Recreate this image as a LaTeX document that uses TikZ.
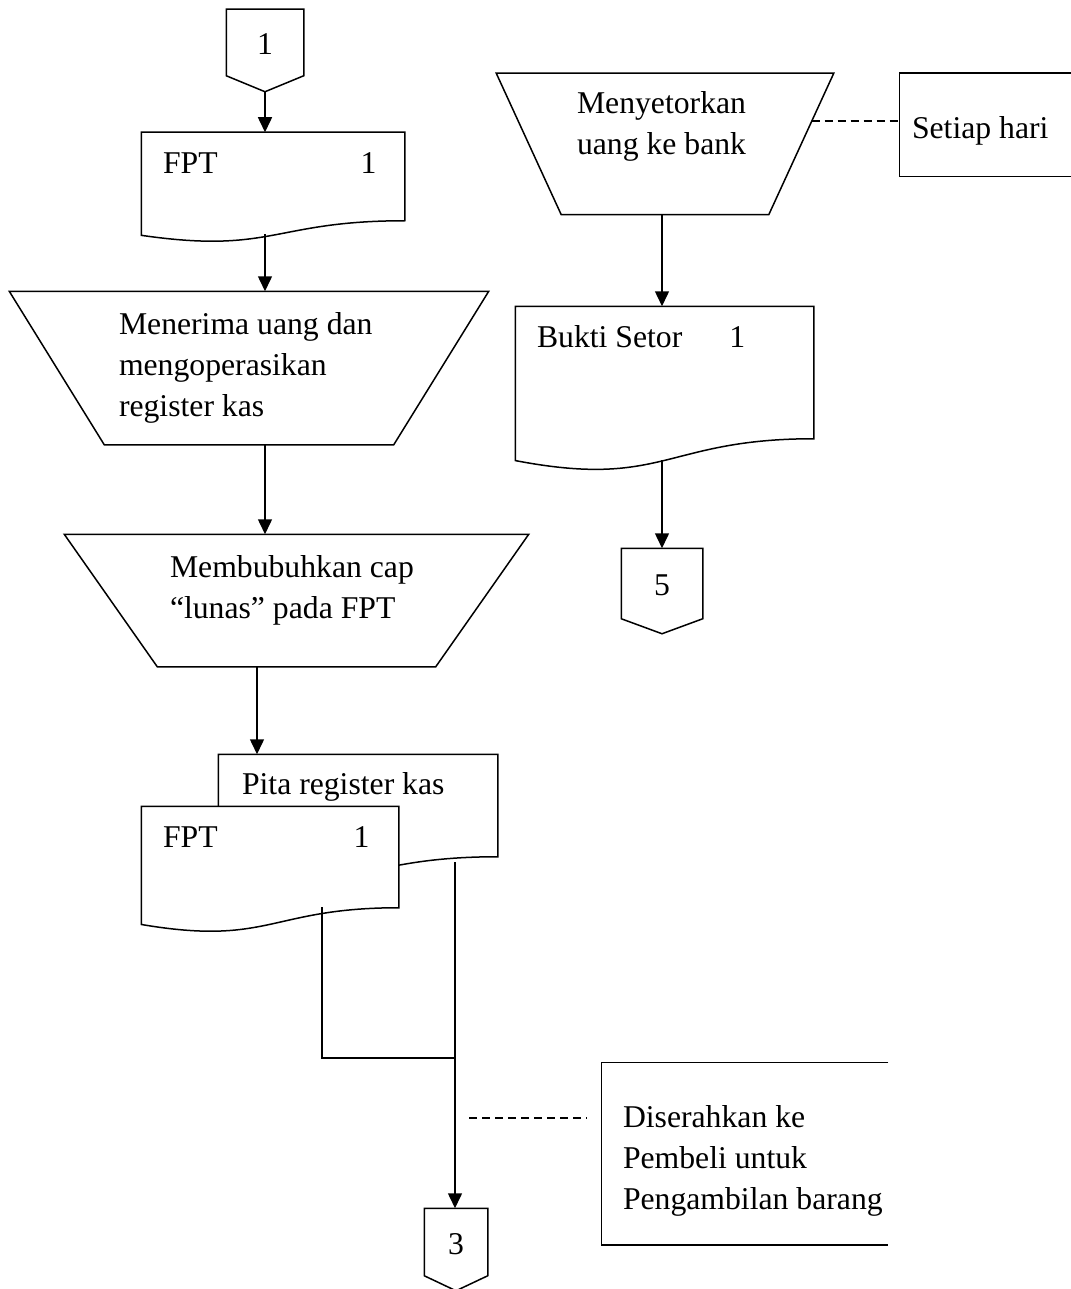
\documentclass[tikz,border=0pt]{standalone}
\usepackage{fontspec}
\setmainfont{Liberation Serif}
\usetikzlibrary{arrows.meta,calc}

\tikzset{
  box/.style={shape=rectangle, inner sep=0pt, align=flush left, text height=25pt},
  paper/.style={box, fill=white},
  flow/.style={-{Triangle[length=15pt,width=14pt]}},
  ket/.style={dash pattern=on 8pt off 5pt, line width=1.2pt},
}

% document outline: flat top, wavy bottom
\newcommand{\paperedge}[1]{\draw (#1.north east) -- (#1.north west) -- ($(#1.north west)!1.1646!(#1.south west)$) .. controls ($(#1.north)!1.3809!(#1.south)$) and (#1.south) .. (#1.south east) -- cycle;}
% manual operation outline
\newcommand{\trapedge}[2]{\draw (#1.north west) -- (#1.north east) -- ([xshift=-#2]#1.south east) -- ([xshift=#2]#1.south west) -- cycle;}

\begin{document}
\begin{tikzpicture}[x=1pt,y=-1pt,line width=1.5pt,
  every node/.style={font=\fontsize{31.7}{41}\selectfont}]

\useasboundingbox (0,0) rectangle (1070,1289);

% kasir
\path (265,42.5) node (c1) [box, minimum width=76pt, minimum height=65pt] {1};
\coordinate (c1tip) at ($(c1.south)+(0,16)$);
\draw (c1.south west) -- (c1.north west) -- (c1.north east) -- (c1.south east) -- (c1tip) -- cycle;

\path (273,176.5) node (fpt1) [paper, minimum width=262pt, minimum height=87pt, text width=220pt, text depth=31pt] {FPT\hspace{143pt}1};
\paperedge{fpt1}
\coordinate (fpt1out) at (265,234.5);

\path (249,368) node (terima) [box, minimum width=478pt, minimum height=152pt, text width=260pt, text depth=93pt] {Menerima uang dan\\mengoperasikan\\register kas};
\trapedge{terima}{95pt}

\path (296.5,600.5) node (cap) [box, minimum width=463pt, minimum height=131pt, text width=253pt, text depth=72pt] {Membubuhkan cap\\“lunas” pada FPT};
\trapedge{cap}{93pt}

\path (358,805.5) node (pita) [paper, minimum width=278pt, minimum height=101pt, text width=232pt, text depth=48pt] {Pita register kas};
\paperedge{pita}
\coordinate (pitaout) at (455,862);

\path (270,857) node (fpt2) [paper, minimum width=256pt, minimum height=100pt, text width=214pt, text depth=44pt] {FPT\hspace{136pt}1};
\paperedge{fpt2}
\coordinate (fpt2out) at (322,907);

\path (456,1242) node (c3) [box, minimum width=62pt, minimum height=66pt] {3};
\coordinate (c3tip) at ($(c3.south)+(0,15)$);
\draw (c3.south west) -- (c3.north west) -- (c3.north east) -- (c3.south east) -- (c3tip) -- cycle;

\draw [flow] (c1tip) to (fpt1.north -| c1tip);
\draw [flow] (fpt1out) to (fpt1out |- terima.north);
\draw [flow] (terima.south -| fpt1out) to (cap.north -| fpt1out);
\draw [flow] ([xshift=-39.5pt]cap.south) to ([xshift=-101pt]pita.north);
\coordinate (join) at (455,1058);
\draw (fpt2out) |- (join);
\draw [flow] (pitaout) to (c3.north -| pitaout);

% setoran bank
\path (665,144) node (setor) [box, minimum width=336pt, minimum height=140pt, text width=176pt, text depth=85pt] {Menyetorkan\\uang ke bank};
\trapedge{setor}{65pt}

\path (664.5,372.5) node (bukti) [paper, minimum width=297pt, minimum height=131pt, text width=255pt, text depth=76pt] {Bukti Setor\hspace{47pt}1};
\paperedge{bukti}
\coordinate (buktiout) at (662,460);

\path (662,583.5) node (c5) [box, minimum width=80pt, minimum height=69pt] {5};
\coordinate (c5tip) at ($(c5.south)+(0,15)$);
\draw (c5.south west) -- (c5.north west) -- (c5.north east) -- (c5.south east) -- (c5tip) -- cycle;

\draw [flow] ([xshift=-3pt]setor.south) to ([xshift=-2.5pt]bukti.north);
\draw [flow] (buktiout) to (c5.north -| buktiout);

% keterangan
\path (985,125) node (hari) [box, minimum width=170pt, minimum height=102pt, text width=146pt, text height=33pt, text depth=5pt] {Setiap hari};
\draw (hari.north east) -- (hari.north west) -- (hari.south west) -- (hari.south east);
\coordinate (setorside) at (811.5,121);
\draw [ket] (setorside) -- (setorside -| hari.west);

\path (758,1153.5) node (serah) [box, minimum width=287pt, minimum height=181pt, inner xsep=21pt, text width=270pt, text depth=78pt] {Diserahkan ke\\Pembeli untuk\\Pengambilan barang};
\draw ([xshift=287pt]serah.north west) -- (serah.north west) -- (serah.south west) -- ([xshift=287pt]serah.south west);
\coordinate (serahgap) at (469,1118);
\draw [ket, shorten >=15pt] (serahgap) -- (serahgap -| serah.west);

\end{tikzpicture}
\end{document}
